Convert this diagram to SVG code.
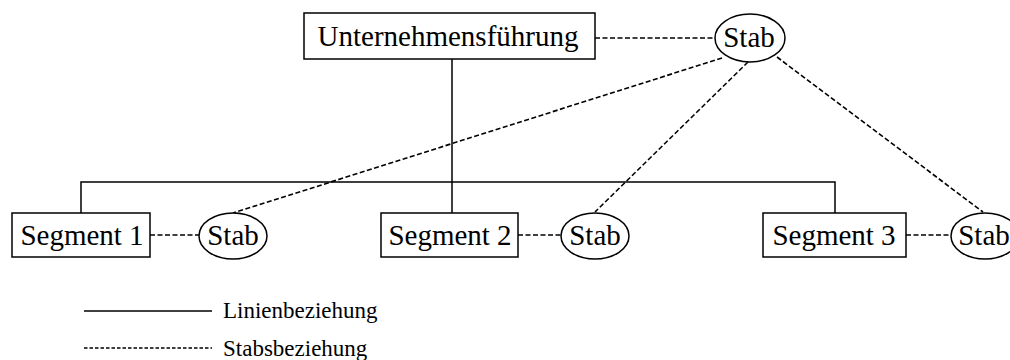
<svg xmlns="http://www.w3.org/2000/svg" width="1010" height="360" viewBox="0 0 1010 360">
<style>
.box{fill:#fff;stroke:#000;stroke-width:1.5}
.lbl{font-family:"Liberation Serif","Times New Roman",serif;font-size:29px;fill:#000;text-anchor:middle}
.leg{font-family:"Liberation Serif","Times New Roman",serif;font-size:23px;fill:#000}
.solid{stroke:#000;stroke-width:1.5;fill:none}
.dash{stroke:#000;stroke-width:1.6;fill:none;stroke-dasharray:5 2.5}
.dashfine{stroke:#000;stroke-width:1.3;fill:none;stroke-dasharray:3.5 2}
</style>
<g id="connectors">
<path class="solid" d="M452 59 V213 M81 213 V182 H835 V213"/>
<line class="dash" x1="595" y1="38" x2="715" y2="38"/>
<line class="dash" x1="150" y1="235" x2="199" y2="235"/>
<line class="dash" x1="518" y1="235" x2="561" y2="235"/>
<line class="dash" x1="906" y1="235" x2="951" y2="235"/>
<line class="dash" x1="722" y1="58" x2="233" y2="213"/>
<line class="dash" x1="748" y1="62" x2="595" y2="212"/>
<line class="dash" x1="777" y1="57" x2="983" y2="212"/>
</g>
<g id="unternehmensfuehrung">
<rect class="box" x="304" y="13" width="291" height="46"/>
<text class="lbl" x="448" y="46">Unternehmensführung</text>
</g>
<g id="stab-top">
<ellipse class="box" cx="750" cy="38" rx="35" ry="24"/>
<text class="lbl" x="749" y="47">Stab</text>
</g>
<g id="segment1">
<rect class="box" x="12" y="213" width="138" height="44"/>
<text class="lbl" x="82" y="245">Segment 1</text>
</g>
<g id="stab1">
<ellipse class="box" cx="233" cy="236" rx="34" ry="23"/>
<text class="lbl" x="233" y="245">Stab</text>
</g>
<g id="segment2">
<rect class="box" x="381" y="213" width="137" height="44"/>
<text class="lbl" x="450" y="245">Segment 2</text>
</g>
<g id="stab2">
<ellipse class="box" cx="595" cy="236" rx="34" ry="23"/>
<text class="lbl" x="595" y="245">Stab</text>
</g>
<g id="segment3">
<rect class="box" x="763" y="213" width="143" height="44"/>
<text class="lbl" x="834" y="245">Segment 3</text>
</g>
<g id="stab3">
<ellipse class="box" cx="985" cy="236" rx="34" ry="23"/>
<text class="lbl" x="984" y="245">Stab</text>
</g>
<g id="legend">
<line class="solid" x1="84" y1="311" x2="212" y2="311"/>
<text class="leg" x="223" y="318">Linienbeziehung</text>
<line class="dashfine" x1="84" y1="348" x2="212" y2="348"/>
<text class="leg" x="223" y="356">Stabsbeziehung</text>
</g>
</svg>
